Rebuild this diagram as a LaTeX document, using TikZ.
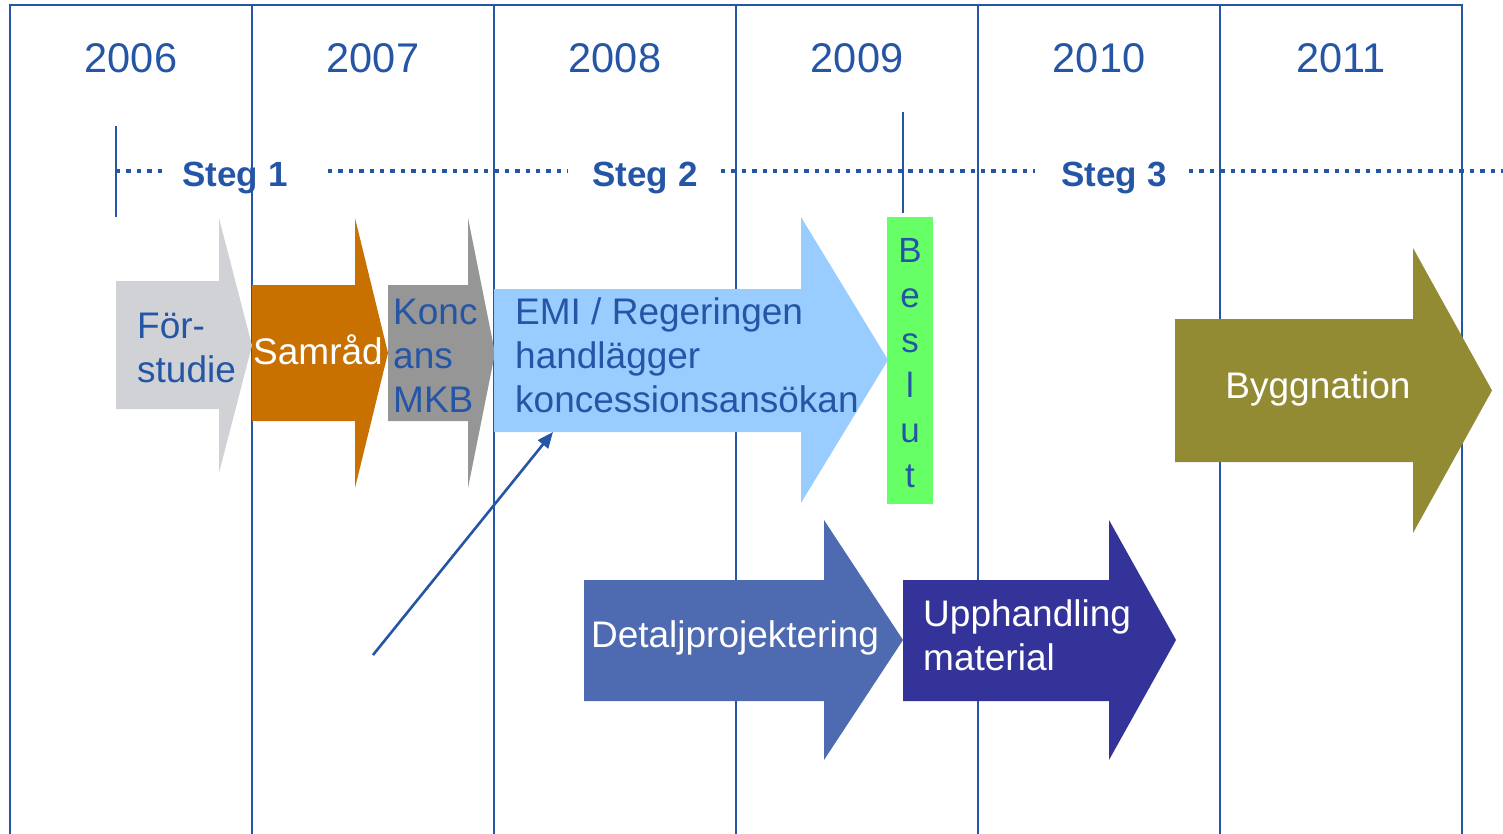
\documentclass[tikz,border=0pt]{standalone}
\usepackage{fontspec}
\setmainfont{Liberation Sans}
\usetikzlibrary{arrows.meta}
\definecolor{lineblue}{RGB}{37,85,165}
\definecolor{fgray}{RGB}{208,210,214}
\definecolor{sorange}{RGB}{200,112,0}
\definecolor{mgray}{RGB}{150,150,150}
\definecolor{lblue}{RGB}{153,204,255}
\definecolor{bgreen}{RGB}{102,255,102}
\definecolor{olive}{RGB}{146,139,52}
\definecolor{dblue}{RGB}{78,106,176}
\definecolor{indigo}{RGB}{51,51,153}
\newcommand{\blockarrow}[8]{%
  \fill[#1] (#2,#3) -- (#5,#3) -- (#5,#6) -- (#8,{(#6+#7)/2}) -- (#5,#7) -- (#5,#4) -- (#2,#4) -- cycle;}
\tikzset{
  gridline/.style={draw=lineblue, line width=2.8pt},
  dotline/.style={draw=lineblue, line width=4.8pt, dash pattern=on 4.4pt off 6pt},
  yearlbl/.style={text=lineblue, font=\fontsize{41.5}{49}\selectfont, inner sep=0pt, anchor=base},
  steglbl/.style={text=lineblue, font=\bfseries\fontsize{35}{42}\selectfont, inner sep=0pt, anchor=base},
  bodytxt/.style={font=\fontsize{37}{44}\selectfont, inner sep=0pt, align=left, anchor=base west},
  conn/.style={draw=lineblue, line width=2.6pt, -{Triangle[length=16pt,width=13pt]}},
}
\begin{document}
\begin{tikzpicture}[x=1pt,y=-1pt]
\useasboundingbox (0,0) rectangle (1503,834);
% grid
\draw[gridline] (10,834) -- (10,5) -- (1462,5) -- (1462,834);
\foreach \gx in {252,494,736,978,1220} \draw[gridline] (\gx,5) -- (\gx,834);
% years
\node[yearlbl] (y2006) at (131,73) {2006};
\node[yearlbl] (y2007) at (373,73) {2007};
\node[yearlbl] (y2008) at (615,73) {2008};
\node[yearlbl] (y2009) at (857,73) {2009};
\node[yearlbl] (y2010) at (1099,73) {2010};
\node[yearlbl] (y2011) at (1341,73) {2011};
% steg line
\draw[gridline] (116,126) -- (116,217);
\draw[gridline] (903,112) -- (903,213);
\draw[dotline] (116,171) -- (162,171);
\draw[dotline] (328,171) -- (568,171);
\draw[dotline] (721,171) -- (1035,171);
\draw[dotline] (1189,171) -- (1503,171);
\node[steglbl] (steg1) at (235,187) {Steg 1};
\node[steglbl] (steg2) at (645,187) {Steg 2};
\node[steglbl] (steg3) at (1114,187) {Steg 3};
% block arrows
\blockarrow{fgray}{116}{281}{409}{219}{218}{473}{252}
\blockarrow{sorange}{252}{285}{421}{355}{218}{488}{388}
\blockarrow{mgray}{388}{285}{421}{468}{218}{488}{495}
\blockarrow{lblue}{494}{289}{432}{801}{217}{503}{888}
\blockarrow{olive}{1175}{319}{462}{1413}{248}{533}{1492}
\blockarrow{dblue}{584}{580}{701}{824}{520}{760}{903}
\blockarrow{indigo}{903}{580}{701}{1109}{520}{760}{1176}
\fill[bgreen] (887,217) rectangle (933,504);
% texts (multi-line nodes are anchored at the last line's baseline)
\node[bodytxt, text=lineblue] (fors) at (137,382) {För-\\studie};
\node[bodytxt, text=white, anchor=base] (samr) at (318,364) {Samråd};
\node[bodytxt, text=lineblue] (konc) at (393,412) {Konc\\ans\\MKB};
\node[bodytxt, text=lineblue] (emi) at (515,412) {EMI / Regeringen\\handlägger\\koncessionsansökan};
\node[bodytxt, text=white, anchor=base] (bygg) at (1318,398) {Byggnation};
\node[bodytxt, text=white, anchor=base] (detalj) at (735,647) {Detaljprojektering};
\node[bodytxt, text=white] (upph) at (923,670) {Upphandling\\material};
\node[font=\fontsize{35}{45}\selectfont, text=lineblue, inner sep=0pt, align=center, anchor=base] (beslut) at (910,487) {B\\e\\s\\l\\u\\t};
% connector
\coordinate (cstart) at (373,655);
\coordinate (emiin) at (553,432);
\draw[conn] (cstart) -- (emiin);
\end{tikzpicture}
\end{document}
